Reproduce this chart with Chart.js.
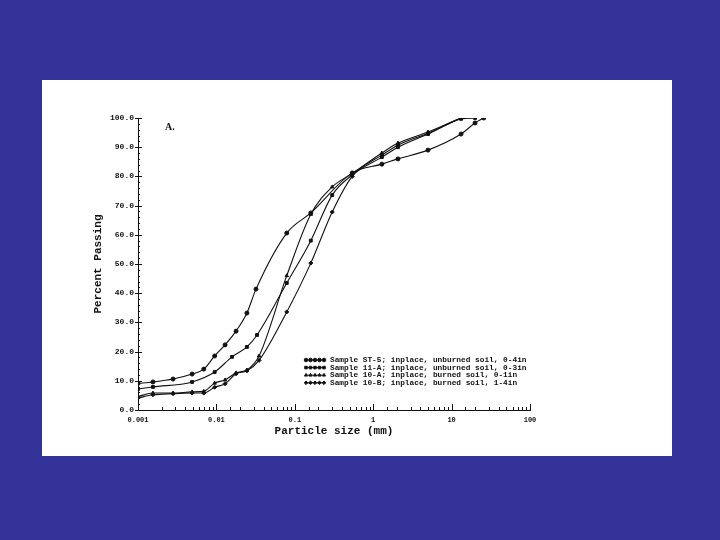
<!DOCTYPE html>
<html>
<head>
<meta charset="utf-8">
<title>Particle size distribution</title>
<script src="https://cdn.jsdelivr.net/npm/chart.js@4.4.1/dist/chart.umd.min.js"></script>
<style>
  html, body { margin: 0; padding: 0; background: #333399; }
  body { width: 720px; height: 540px; position: relative; overflow: hidden; }
  #panel { position: absolute; left: 42px; top: 80px; width: 630px; height: 376px; background: #fff; }
</style>
</head>
<body>
<div id="panel"><canvas id="gradation" width="630" height="376"></canvas></div>
<script>
// particle size (mm) and percent passing
const st5Size = [0.001, 0.00155, 0.0028, 0.0049, 0.0069, 0.0095, 0.0129, 0.0178, 0.0245, 0.032, 0.079, 0.16, 0.54, 1.29, 2.07, 5.0, 13.2, 19.9, 25.7];
const st5Pass = [9.1, 9.6, 10.6, 12.3, 14.0, 18.5, 22.3, 27.0, 33.2, 41.4, 60.6, 67.5, 81.2, 84.2, 86.0, 89.0, 94.5, 98.3, 100.0];

const s11aSize = [0.001, 0.00155, 0.0049, 0.0095, 0.0158, 0.0245, 0.033, 0.079, 0.16, 0.3, 0.54, 1.29, 2.07, 5.0, 13.2, 19.9];
const s11aPass = [7.2, 7.9, 9.6, 13.0, 18.2, 21.6, 25.7, 43.5, 58.0, 73.6, 80.5, 86.6, 90.0, 94.5, 99.7, 100.0];

const s10aSize = [0.001, 0.00155, 0.0028, 0.0049, 0.0069, 0.0095, 0.0129, 0.0178, 0.0245, 0.035, 0.079, 0.16, 0.3, 0.54, 1.29, 2.07, 5.0, 13.2];
const s10aPass = [4.6, 5.8, 5.8, 6.2, 6.4, 9.2, 10.3, 12.7, 13.7, 18.5, 46.0, 67.0, 76.4, 81.0, 88.0, 91.4, 95.2, 100.0];

const s10bSize = [0.001, 0.00155, 0.0028, 0.0049, 0.0069, 0.0095, 0.0129, 0.0178, 0.0245, 0.035, 0.079, 0.16, 0.3, 0.54, 1.29, 2.07, 5.0, 13.2];
const s10bPass = [4.1, 5.2, 5.6, 5.8, 5.8, 7.8, 9.0, 12.4, 13.4, 17.0, 33.6, 50.3, 67.8, 80.0, 87.3, 90.7, 94.8, 100.0];

const seriesLabels = [
  'Sample ST-5; inplace, unburned soil, 0-4in',
  'Sample 11-A; inplace, unburned soil, 0-3in',
  'Sample 10-A; inplace, burned soil, 0-1in',
  'Sample 10-B; inplace, burned soil, 1-4in'
];
const seriesMarkers = ['circle', 'rect', 'triangle', 'rectRot'];
const xTickLabels = ['0.001', '0.01', '0.1', '1', '10', '100'];
const panelLabel = 'A.';

const INK = '#111';
const MONO = '"Liberation Mono", "DejaVu Sans Mono", monospace';

const toPoints = (xs, ys) => xs.map((x, i) => ({ x: x, y: ys[i] }));
const isDecade = (v) => Math.abs(Math.log10(v) - Math.round(Math.log10(v))) < 1e-6;

const makeSet = (i, xs, ys) => ({
  label: seriesLabels[i],
  data: toPoints(xs, ys),
  borderColor: INK,
  backgroundColor: INK,
  borderWidth: 1.1,
  pointStyle: seriesMarkers[i],
  pointRadius: 2,
  pointBorderWidth: 1,
  pointBackgroundColor: INK,
  cubicInterpolationMode: 'monotone',
  fill: false
});

// tick marks drawn on the inside of the axes, plus the in-plot legend and panel letter
const plotDecor = {
  id: 'plotDecor',
  afterDraw(chart) {
    const { ctx, chartArea: a, scales: { x, y } } = chart;
    ctx.save();
    ctx.strokeStyle = INK;
    ctx.lineWidth = 1;
    ctx.beginPath();
    x.ticks.forEach(t => {
      const px = Math.round(x.getPixelForValue(t.value)) + 0.5;
      ctx.moveTo(px, a.bottom);
      ctx.lineTo(px, a.bottom - (isDecade(t.value) ? 6 : 3));
    });
    for (let v = 0; v <= 100; v += 2) {
      const py = Math.round(y.getPixelForValue(v)) + 0.5;
      const major = v % 10 === 0;
      ctx.moveTo(a.left - (major ? 3 : 0), py);
      ctx.lineTo(a.left + (major ? 4 : 2), py);
    }
    ctx.stroke();

    // legend
    ctx.fillStyle = INK;
    ctx.font = 'bold 7.8px ' + MONO;
    ctx.textBaseline = 'middle';
    chart.data.datasets.forEach((ds, i) => {
      const ly = a.bottom - 50 + i * 7.6;
      const lx = a.left + 168;
      ctx.beginPath();
      ctx.moveTo(lx, ly);
      ctx.lineTo(lx + 18, ly);
      ctx.stroke();
      for (let k = 0; k < 5; k++) {
        Chart.helpers.drawPoint(ctx, { pointStyle: ds.pointStyle, radius: 1.8, borderWidth: 1, rotation: 0 }, lx + k * 4.5, ly);
      }
      ctx.fillText(ds.label, lx + 24, ly);
    });

    ctx.font = 'bold 10px "Liberation Serif", serif';
    ctx.textBaseline = 'alphabetic';
    ctx.fillText(panelLabel, a.left + 27, a.top + 12);
    ctx.restore();
  }
};

new Chart(document.getElementById('gradation'), {
  type: 'line',
  data: {
    datasets: [
      makeSet(0, st5Size, st5Pass),
      makeSet(1, s11aSize, s11aPass),
      makeSet(2, s10aSize, s10aPass),
      makeSet(3, s10bSize, s10bPass)
    ]
  },
  options: {
    responsive: false,
    animation: false,
    layout: { padding: { left: 50, right: 142, top: 38, bottom: 18 } },
    plugins: { legend: { display: false }, tooltip: { enabled: false } },
    scales: {
      x: {
        type: 'logarithmic',
        min: 0.001,
        max: 100,
        grid: { display: false, drawTicks: false },
        border: { display: true, color: INK, width: 1 },
        afterFit: (s) => { s.height = 28; },
        ticks: {
          autoSkip: false,
          maxRotation: 0,
          padding: 6,
          color: INK,
          font: { family: MONO, size: 7, weight: 'bold' },
          callback: (v) => isDecade(v) ? xTickLabels[Math.round(Math.log10(v)) + 3] : ''
        },
        title: {
          display: true,
          text: 'Particle size (mm)',
          color: INK,
          padding: 0,
          font: { family: MONO, size: 11, weight: 'bold' }
        }
      },
      y: {
        min: 0,
        max: 100,
        grid: { display: false, drawTicks: false },
        border: { display: true, color: INK, width: 1 },
        afterFit: (s) => { s.width = 46; },
        ticks: {
          stepSize: 10,
          padding: 4,
          color: INK,
          font: { family: MONO, size: 8, weight: 'bold' },
          callback: (v) => v.toFixed(1)
        },
        title: {
          display: true,
          text: 'Percent Passing',
          color: INK,
          padding: 0,
          font: { family: MONO, size: 11, weight: 'bold' }
        }
      }
    }
  },
  plugins: [plotDecor]
});
</script>
</body>
</html>
